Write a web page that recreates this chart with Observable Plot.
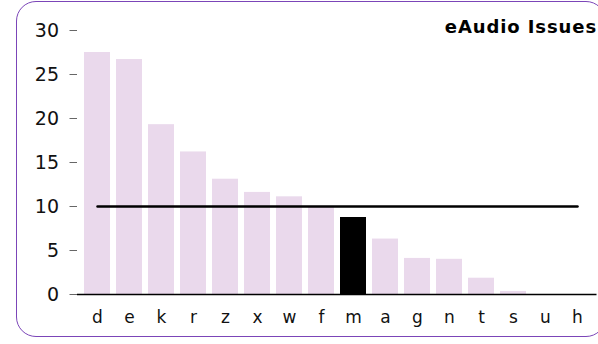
<!DOCTYPE html>
<html>
<head>
<meta charset="utf-8">
<script src="https://cdn.jsdelivr.net/npm/d3@7"></script>
<script src="https://cdn.jsdelivr.net/npm/@observablehq/plot@0.6"></script>
<style>
  html, body { margin: 0; padding: 0; background: #fff; overflow: hidden; }
  #wrap { position: relative; width: 598px; height: 344px; overflow: hidden; }
  #frame { position: absolute; left: 16px; top: 1px; width: 590px; height: 336px;
           border: 1.5px solid #7b45b8; border-radius: 20px; box-sizing: border-box; }
  #chart { position: absolute; left: 0; top: 0; }
</style>
</head>
<body>
<div id="wrap"><div id="frame"></div><div id="chart"></div></div>
<script>
const categories = ["d","e","k","r","z","x","w","f","m","a","g","n","t","s","u","h"];
const values = [27.5, 26.7, 19.3, 16.2, 13.1, 11.6, 11.1, 9.9, 8.75, 6.3, 4.1, 4.0, 1.85, 0.35, 0, 0];
const highlight = "m";
const threshold = 10;
const yTicks = [0, 5, 10, 15, 20, 25, 30];
const title = "eAudio Issues";

const data = categories.map((c, i) => ({cat: c, value: values[i]}));
const lineData = [{cat: categories[0], value: threshold}, {cat: categories[categories.length - 1], value: threshold}];

const chart = Plot.plot({
  width: 598,
  height: 344,
  marginLeft: 77,
  marginRight: 1.5,
  marginTop: 30,
  marginBottom: 50,
  style: {fontFamily: "DejaVu Sans, Verdana, sans-serif", background: "transparent", color: "#111", fontSize: "17px"},
  x: {domain: categories, paddingInner: 0.2, paddingOuter: 0.1, label: null},
  y: {domain: [0, 30], label: null},
  marks: [
    Plot.barY(data, {x: "cat", y: "value", fill: d => d.cat === highlight ? "#000000" : "#ead9ec"}),
    Plot.line(lineData, {x: "cat", y: "value", stroke: "#000", strokeWidth: 2.5}),
    Plot.axisY({ticks: yTicks, tickSize: 7.5, tickPadding: 11, stroke: "#666", label: null, tickFormat: d => String(d)}),
    Plot.axisX({tickSize: 0, tickPadding: 16, label: null}),
    Plot.ruleX([0], {frameAnchor: "left", stroke: "#000", strokeWidth: 1.5}),
    Plot.ruleY([0], {stroke: "#000", strokeWidth: 1.5}),
    Plot.text([title], {frameAnchor: "top-right", textAnchor: "end", lineAnchor: "middle", dy: -3, dx: 0,
      fill: "#000"})
  ]
});
document.getElementById("chart").appendChild(chart);
const svg = d3.select(chart);
svg.selectAll('g[aria-label="y-axis tick label"] text').style("font-size", "19px").style("fill", "#111");
svg.selectAll('g[aria-label="x-axis tick label"] text').style("font-size", "17px").style("fill", "#111");
svg.selectAll('g[aria-label="text"] text').style("font-size", "18px").style("font-weight", "bold").style("letter-spacing", "0.9px");
</script>
</body>
</html>
